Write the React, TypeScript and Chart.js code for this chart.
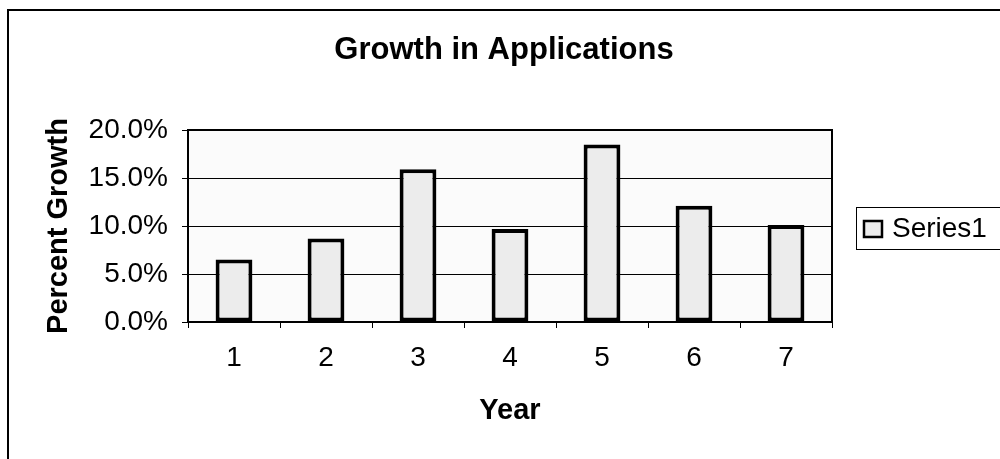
import React, { useEffect, useRef } from "react";
import { Chart, registerables } from "chart.js";

Chart.register(...registerables);

const TITLE = "Growth in Applications";
const X_TITLE = "Year";
const Y_TITLE = "Percent Growth";
const SERIES_NAME = "Series1";
const years = ["1", "2", "3", "4", "5", "6", "7"];
const growth = [6.5, 8.7, 15.9, 9.7, 18.5, 12.1, 10.1];
const yTicks = [0, 5, 10, 15, 20];

const FONT = "'Liberation Sans', Arial, sans-serif";

const decorPlugin = {
  id: "decor",
  beforeDraw(chart: any) {
    const { ctx, chartArea } = chart;
    ctx.save();
    ctx.fillStyle = "#ffffff";
    ctx.fillRect(0, 0, chart.width, chart.height);
    ctx.fillStyle = "#fbfbfb";
    ctx.fillRect(chartArea.left, chartArea.top, chartArea.right - chartArea.left, chartArea.bottom - chartArea.top);
    ctx.restore();
  },
  afterDraw(chart: any) {
    const { ctx, chartArea } = chart;
    ctx.save();
    // outer frame (top and left)
    ctx.strokeStyle = "#000";
    ctx.lineWidth = 2;
    ctx.beginPath();
    ctx.moveTo(8, 459);
    ctx.lineTo(8, 10);
    ctx.lineTo(1000, 10);
    ctx.stroke();
    // plot border
    ctx.lineWidth = 2;
    ctx.strokeRect(chartArea.left, chartArea.top, chartArea.right - chartArea.left, chartArea.bottom - chartArea.top);
    // title
    ctx.fillStyle = "#000";
    ctx.font = `bold 31px ${FONT}`;
    ctx.textAlign = "center";
    ctx.textBaseline = "middle";
    ctx.fillText(TITLE, 504, 50);
    // legend
    ctx.lineWidth = 1;
    ctx.strokeRect(856.5, 207.5, 160, 42);
    ctx.fillStyle = "#ececec";
    ctx.fillRect(864, 221, 18, 16);
    ctx.lineWidth = 2.5;
    ctx.strokeRect(864, 221, 18, 16);
    ctx.fillStyle = "#000";
    ctx.font = `28px ${FONT}`;
    ctx.textAlign = "left";
    ctx.textBaseline = "middle";
    ctx.fillText(chart.data.datasets[0].label, 892, 229);
    ctx.restore();
  },
};

export default function App() {
  const ref = useRef<HTMLCanvasElement | null>(null);
  useEffect(() => {
    if (!ref.current) return;
    const chart = new Chart(ref.current, {
      type: "bar",
      data: {
        labels: years,
        datasets: [
          {
            label: SERIES_NAME,
            data: growth,
            backgroundColor: "#ececec",
            borderColor: "#000",
            borderWidth: 4,
            borderSkipped: false,
            barPercentage: 0.4,
            categoryPercentage: 1,
          },
        ],
      },
      options: {
        responsive: false,
        animation: false,
        layout: { padding: { left: 0, top: 130, right: 168, bottom: 0 } },
        plugins: {
          legend: { display: false },
          title: { display: false },
          tooltip: { enabled: false },
        },
        scales: {
          x: {
            afterFit: (s: any) => {
              s.height = 137;
            },
            grid: {
              offset: true,
              drawOnChartArea: false,
              tickLength: 6,
              color: "#000",
              lineWidth: 1,
            },
            border: { display: false },
            ticks: {
              color: "#000",
              font: { family: FONT, size: 28 },
              padding: 13,
            },
            title: {
              display: true,
              text: X_TITLE,
              color: "#000",
              font: { family: FONT, size: 29, weight: "bold" },
              padding: { top: 0, bottom: 31 },
            },
          },
          y: {
            min: 0,
            max: 20,
            afterFit: (s: any) => {
              s.width = 188;
            },
            afterBuildTicks: (s: any) => {
              s.ticks = yTicks.map((v) => ({ value: v }));
            },
            grid: {
              color: "#000",
              lineWidth: 1,
              tickLength: 6,
            },
            border: { display: false },
            ticks: {
              color: "#000",
              font: { family: FONT, size: 28 },
              padding: 14,
              callback: (v: any) => Number(v).toFixed(1) + "%",
            },
            title: {
              display: true,
              text: Y_TITLE,
              color: "#000",
              font: { family: FONT, size: 29, weight: "bold" },
              padding: { top: 42, bottom: 0 },
            },
          },
        },
      },
      plugins: [decorPlugin],
    });
    return () => chart.destroy();
  }, []);
  return (
    <div style={{ position: "fixed", left: 0, top: 0, width: 1000, height: 459 }}>
      <canvas ref={ref} width={1000} height={459} style={{ display: "block" }} />
    </div>
  );
}
